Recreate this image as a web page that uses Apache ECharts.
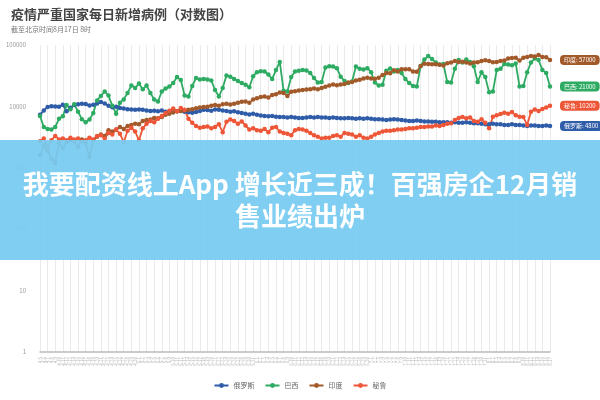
<!DOCTYPE html>
<html><head><meta charset="utf-8">
<script src="https://cdn.jsdelivr.net/npm/echarts@6/dist/echarts.min.js"></script>
<style>html,body{margin:0;padding:0;background:#fff}#c{width:600px;height:400px}</style>
</head><body><div id="c"></div>
<script>
const dates = ["4.5","4.6","4.7","4.8","4.9","4.10","4.11","4.12","4.13","4.14","4.15","4.16","4.17","4.18","4.19","4.20","4.21","4.22","4.23","4.24","4.25","4.26","4.27","4.28","4.29","4.30",
"5.1","5.2","5.3","5.4","5.5","5.6","5.7","5.8","5.9","5.10","5.11","5.12","5.13","5.14","5.15","5.16","5.17","5.18","5.19","5.20","5.21","5.22","5.23","5.24","5.25","5.26","5.27","5.28","5.29","5.30","5.31",
"6.1","6.2","6.3","6.4","6.5","6.6","6.7","6.8","6.9","6.10","6.11","6.12","6.13","6.14","6.15","6.16","6.17","6.18","6.19","6.20","6.21","6.22","6.23","6.24","6.25","6.26","6.27","6.28","6.29","6.30",
"7.1","7.2","7.3","7.4","7.5","7.6","7.7","7.8","7.9","7.10","7.11","7.12","7.13","7.14","7.15","7.16","7.17","7.18","7.19","7.20","7.21","7.22","7.23","7.24","7.25","7.26","7.27","7.28","7.29","7.30","7.31",
"8.1","8.2","8.3","8.4","8.5","8.6","8.7","8.8","8.9","8.10","8.11","8.12","8.13","8.14","8.15","8.16","8.17"];

const seriesNames = ["俄罗斯","巴西","印度","秘鲁"];

const russia = [7300,8600,9800,10100,10000,9900,10600,8300,9500,10500,10800,11000,10900,10300,10600,11200,11800,11200,10200,9700,
9900,9400,9200,9000,8900,8800,8900,8800,8600,8400,8500,8300,8600,8200,8100,8000,8300,8400,8200,8000,
7900,8100,8400,8800,8700,8500,8900,8800,8600,8400,8200,8300,8000,7800,7600,7400,7600,7300,7100,7000,
6900,7000,6800,6700,6700,6600,6700,6600,6500,6500,6600,6700,6600,6700,6600,6600,6500,6600,6500,6400,
6400,6500,6400,6300,6400,6300,6400,6300,6200,6200,6100,6000,6100,6200,6100,6000,5900,5800,5800,5900,
5800,5700,5700,5600,5600,5500,5500,5500,5400,5500,5400,5400,5500,5400,5300,5300,5200,5100,5100,5200,
5100,5100,5000,5000,5100,5000,5000,4900,4800,4900,4900,4800,4800,4900,4800];

const brazil = [7000,4600,4300,4200,4600,6300,6900,10500,9000,10800,8200,6200,5500,6100,7800,12500,14800,17500,15000,10200,
7600,11500,13000,16500,22000,20000,23500,19000,22000,16500,13000,12000,17500,19500,21000,24000,30000,27000,15000,14500,
21500,29000,27500,28000,27500,26500,18500,14500,20000,32000,30500,28000,26000,24000,22500,20500,31000,36000,37500,37000,
33000,28000,39000,53000,18000,17500,30000,37000,38000,39000,38500,35000,29000,24500,25000,43000,45000,44500,42000,30500,
26000,24000,25500,44500,41000,40000,42000,36000,24500,22000,22500,38000,41500,37000,39000,35000,28000,24000,21500,21000,
45000,58000,66000,59000,52000,48000,49000,25000,24500,41000,57000,52000,58000,53000,45000,25000,36000,30000,17000,17500,
39000,41000,49000,48000,47000,50000,21000,21500,36000,52000,60000,57000,39000,35000,21000];

const india = [1600,2300,1900,1400,1200,2500,2100,2600,2800,2700,2200,2900,2500,1500,2800,3200,3500,3300,4100,3900,
4200,4600,4300,4800,5000,5200,5100,5800,6000,6100,6500,6400,6700,7300,7600,8000,8300,8400,8600,8800,
9000,9300,9600,9800,9900,10200,10500,10200,10800,11000,10700,11000,11500,11900,12000,11500,12900,13600,14200,14500,
14000,15300,15800,16900,16600,14800,17300,17700,18100,18500,18800,19100,19500,19000,20000,20900,21900,22700,22200,22800,
23100,24400,25000,26500,27100,28600,29400,28500,28200,29400,32600,34900,34800,38900,37100,40400,40200,40400,37100,36800,
45700,49300,48900,48700,48500,47700,46500,50600,52100,55100,52900,53600,51700,50000,52000,52500,54700,56300,55100,52500,
53000,55000,56000,60000,61500,62000,56000,62000,64000,66000,65000,69000,64000,63000,57000];

const peru = [2700,3000,2200,2800,3300,2900,3000,2800,3100,2900,3000,2700,2800,3100,2900,3300,3400,3000,3700,3500,
4200,3600,2600,4000,4500,3900,2800,4400,5200,5800,5500,6300,7000,7800,8500,9200,8300,9400,8800,6300,
5400,4800,4500,4600,4700,4400,4600,5100,3800,5600,6100,5800,5200,5700,4900,4200,4400,4100,4000,4300,
3800,4500,4600,3900,3700,3600,3400,4100,4300,4200,4000,3700,3400,3200,3000,3100,3100,3300,3400,3200,
3700,3600,3500,3200,3400,3100,3000,3200,3500,3700,3900,4000,4000,4100,4200,4200,4300,4400,4400,4500,
4600,4600,4700,4700,4900,4800,5000,5200,5300,6000,6500,6700,6400,6600,5800,5600,6200,5400,4400,6800,
7200,7500,7900,7600,8100,7200,6800,6700,5000,8200,8900,8400,9100,9600,10200];

const colors = ["#2f5ca8","#2eab62","#a35a2a","#ee5638"];
const allData = [russia, brazil, india, peru];

const FONT = "'Noto Sans CJK SC','Noto Sans',sans-serif";
const chart = echarts.init(document.getElementById('c'), null, {renderer:'canvas'});

chart.setOption({
  backgroundColor: '#fff',
  animation: false,
  textStyle: {fontFamily: FONT},
  title: {
    text: '疫情严重国家每日新增病例（对数图）',
    subtext: '截至北京时间8月17日 8时',
    left: 6, top: 3, itemGap: 5,
    textStyle: {fontSize: 13, fontWeight: 'bold', color: '#444', fontFamily: FONT},
    subtextStyle: {fontSize: 7, color: '#777', fontFamily: FONT}
  },
  legend: {
    bottom: 6, left: 'center',
    itemWidth: 14, itemHeight: 6, itemGap: 10,
    textStyle: {fontSize: 7, color: '#666', fontFamily: FONT},
    data: seriesNames
  },
  grid: {left: 40, right: 50, top: 45, bottom: 48},
  xAxis: {
    type: 'category', boundaryGap: false, data: dates,
    axisLine: {lineStyle: {color: '#bbb', width: 1.5}},
    axisTick: {show: false},
    axisLabel: {interval: 0, rotate: 90, fontSize: 4.5, color: '#bbb', margin: 5, fontFamily: FONT},
    splitLine: {show: true, interval: 1, lineStyle: {color: '#eaeaea', width: 1}}
  },
  yAxis: {
    type: 'log', logBase: 10, min: 1, max: 100000,
    axisLine: {show: false}, axisTick: {show: false},
    splitLine: {show: false},
    axisLabel: {fontSize: 6, color: '#999', margin: 14, fontFamily: FONT,
      formatter: v => String(Math.round(v))}
  },
  series: seriesNames.map((n, i) => ({
    name: n, type: 'line', data: allData[i],
    symbol: 'circle', symbolSize: 4.5, showSymbol: true,
    lineStyle: {width: 1.8, color: colors[i]},
    itemStyle: {color: colors[i]},
    color: colors[i],
    endLabel: {
      show: true, distance: 10,
      formatter: p => p.seriesName + ': ' + p.value,
      backgroundColor: colors[i], color: '#fff', fontSize: 6,
      padding: [2, 4], borderRadius: 4, fontFamily: FONT
    }
  })),
  graphic: [
    {type: 'rect', z: 100, left: 0, top: 140, shape: {width: 600, height: 120},
     style: {fill: 'rgba(118,203,242,0.93)'}},
    {type: 'text', z: 101, left: 'center', top: 171,
     style: {text: '我要配资线上App 增长近三成！百强房企12月销', fill: '#fff',
       font: "bold 26px 'Noto Sans CJK SC'"}},
    {type: 'text', z: 101, left: 'center', top: 203,
     style: {text: '售业绩出炉', fill: '#fff', font: "bold 26px 'Noto Sans CJK SC'"}}
  ]
});
</script>
</body></html>
